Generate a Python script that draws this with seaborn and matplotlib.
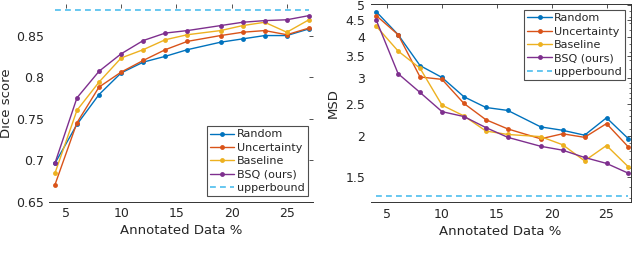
import numpy as np
import pandas as pd
import seaborn as sns
import matplotlib
matplotlib.use("Agg")
import matplotlib.pyplot as plt
from matplotlib.ticker import FixedLocator, FixedFormatter, NullFormatter

# annotated data percentage
pct = [4, 6, 8, 10, 12, 14, 16, 19, 21, 23, 25, 27]

methods = ["Random", "Uncertainty", "Baseline", "BSQ (ours)"]
colors = ["#0072BD", "#D95319", "#EDB120", "#7E2F8E"]

dice_random = [0.696, 0.743, 0.779, 0.805, 0.818, 0.825, 0.833, 0.842, 0.846, 0.850, 0.850, 0.858]
dice_uncert = [0.670, 0.745, 0.788, 0.806, 0.820, 0.833, 0.843, 0.850, 0.854, 0.856, 0.851, 0.859]
dice_base = [0.684, 0.760, 0.794, 0.823, 0.833, 0.845, 0.851, 0.856, 0.862, 0.866, 0.854, 0.869]
dice_bsq = [0.696, 0.775, 0.807, 0.828, 0.844, 0.853, 0.856, 0.862, 0.866, 0.868, 0.869, 0.874]
dice_upper = 0.881

msd_random = [4.77, 4.06, 3.27, 3.01, 2.63, 2.44, 2.39, 2.13, 2.08, 2.01, 2.27, 1.96]
msd_uncert = [4.64, 4.06, 3.02, 2.97, 2.51, 2.24, 2.10, 1.96, 2.03, 1.98, 2.18, 1.85]
msd_base = [4.31, 3.62, 3.21, 2.48, 2.30, 2.07, 2.02, 1.99, 1.88, 1.68, 1.87, 1.61]
msd_bsq = [4.50, 3.09, 2.71, 2.37, 2.29, 2.12, 1.98, 1.86, 1.81, 1.72, 1.65, 1.54]
msd_upper = 1.31

dice_ticks = [0.65, 0.7, 0.75, 0.8, 0.85]
dice_labels = ["0.65", "0.7", "0.75", "0.8", "0.85"]
msd_ticks = [1.5, 2, 2.5, 3, 3.5, 4, 4.5, 5]
msd_labels = ["1.5", "2", "2.5", "3", "3.5", "4", "4.5", "5"]
msd_minor = [1.3, 1.4, 1.6, 1.7, 1.8, 1.9, 2.1, 2.2, 2.3, 2.4, 2.6, 2.7, 2.8, 2.9,
             3.2, 3.4, 3.6, 3.8, 4.2, 4.4, 4.6, 4.8]
x_ticks = [5, 10, 15, 20, 25]

sns.set_style("white")
plt.rcParams["font.family"] = ["DejaVu Sans"]
plt.rcParams["font.size"] = 9
TXT = "#262626"

fig = plt.figure(figsize=(6.34, 2.68), dpi=100)
ax1 = fig.add_axes([0.0778, 0.2474, 0.4164, 0.7377])
ax2 = fig.add_axes([0.5847, 0.2451, 0.4100, 0.7388])


def draw(ax, series, upper):
    for name, vals, c in zip(methods, series, colors):
        sns.lineplot(x=pct, y=vals, ax=ax, color=c, label=name, marker="o",
                     markersize=3.5, markeredgewidth=0, linewidth=1.0)
    sns.lineplot(x=[pct[0], pct[-1]], y=[upper, upper], ax=ax, color="#4DBEEE",
                 linestyle=(0, (3.5, 2.5)), linewidth=1.2, label="upperbound")


draw(ax1, [dice_random, dice_uncert, dice_base, dice_bsq], dice_upper)
draw(ax2, [msd_random, msd_uncert, msd_base, msd_bsq], msd_upper)

ax1.set_xlim(3.5, 27.4)
ax1.set_ylim(0.65, 0.888)
ax1.yaxis.set_major_locator(FixedLocator(dice_ticks))
ax1.yaxis.set_major_formatter(FixedFormatter(dice_labels))
ax1.set_ylabel("Dice score", color=TXT, fontsize=9.5, labelpad=2)

ax2.set_yscale("log")
ax2.set_xlim(3.5, 27.2)
ax2.set_ylim(1.257, 5.02)
ax2.yaxis.set_major_locator(FixedLocator(msd_ticks))
ax2.yaxis.set_major_formatter(FixedFormatter(msd_labels))
ax2.yaxis.set_minor_locator(FixedLocator(msd_minor))
ax2.yaxis.set_minor_formatter(NullFormatter())
ax2.set_ylabel("MSD", color=TXT, fontsize=9.5, labelpad=4)

for ax in (ax1, ax2):
    ax.set_xticks(x_ticks)
    ax.set_xlabel("Annotated Data %", color=TXT, fontsize=9.5, labelpad=3)
    ax.tick_params(which="both", direction="in", top=True, right=True,
                   labelsize=9, colors="#333333", labelcolor=TXT, pad=4)
    ax.tick_params(which="major", length=3, width=0.6)
    ax.tick_params(which="minor", length=1.5, width=0.5)
    for s in ax.spines.values():
        s.set_color("#333333")
        s.set_linewidth(0.7)

ax1.spines["left"].set_visible(False)
ax1.spines["top"].set_visible(False)
ax1.spines["right"].set_visible(False)
ax2.spines["left"].set_visible(False)

for ax, loc in ((ax1, "lower right"), (ax2, "upper right")):
    leg = ax.legend(loc=loc, fontsize=8, frameon=True, fancybox=False,
                    handlelength=2.2, handletextpad=0.2, borderpad=0.3,
                    labelspacing=0.3, borderaxespad=0.5)
    leg.get_frame().set_edgecolor("#222222")
    leg.get_frame().set_linewidth(0.8)
    for t in leg.get_texts():
        t.set_color(TXT)

fig.savefig("out.png", dpi=100)
